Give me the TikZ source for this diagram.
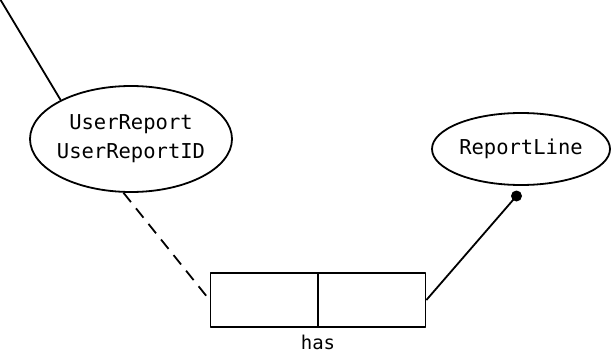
\documentclass[tikz,border=0pt]{standalone}
\usepackage{fontspec}
\newfontfamily\erfont{DejaVu Sans Mono}
\usetikzlibrary{calc,shapes.geometric}

\begin{document}
\begin{tikzpicture}[x=1pt,y=-1pt,line join=round,line width=1.8pt,
  ent/.style={draw,ellipse,align=center,inner xsep=-6pt,inner ysep=0pt,font=\erfont\fontsize{20.5}{29}\selectfont},
  cell/.style={draw,rectangle,minimum width=107.5pt,minimum height=54pt,inner sep=0pt}]
\useasboundingbox (0,0) rectangle (611,353);
\node[ent,minimum width=202pt,minimum height=106pt] (userreport) at (131,139) {UserReport\\UserReportID};
\node[ent,minimum width=178pt,minimum height=72pt] (reportline) at (521,149) {ReportLine};
\node[cell] (hasl) at (264.25,300) {};
\node[cell] (hasr) at (371.75,300) {};
\node[font=\erfont\fontsize{19}{22}\selectfont,inner sep=0pt] (haslbl) at (318,342) {has};
\coordinate (up) at (0,-1);
\coordinate (dot) at (516.5,196);
\draw (up)--(userreport.151);
\draw[dash pattern=on 12pt off 8pt,shorten >=4pt](userreport.262)--(hasl.west);
\draw (hasr.east)--(dot);
\fill (dot) circle (5.5pt);
\end{tikzpicture}
\end{document}
